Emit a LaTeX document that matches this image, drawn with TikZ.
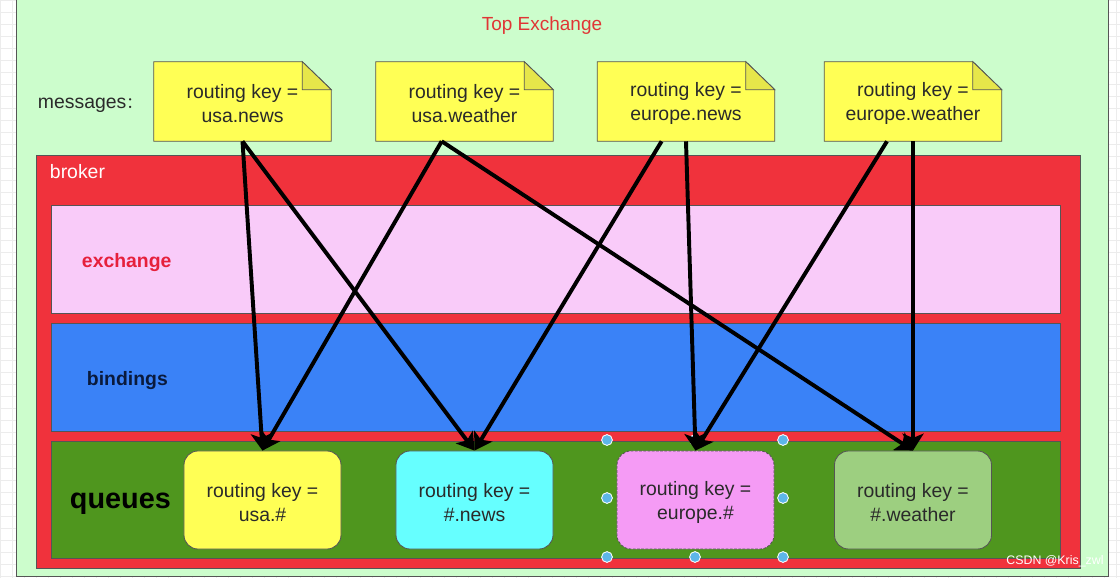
\documentclass[tikz,border=0pt]{standalone}
\usepackage{fontspec}
\setmainfont{Liberation Sans}
\newfontfamily\cjkfont{Noto Sans CJK SC}
\usepackage{xcolor}
\usetikzlibrary{arrows.meta, positioning, backgrounds}
\definecolor{topgreen}{HTML}{CCFDCC}
\definecolor{brokerred}{HTML}{F0323C}
\definecolor{exchpink}{HTML}{F9CBF9}
\definecolor{bindblue}{HTML}{3A82F7}
\definecolor{queuegreen}{HTML}{4F961E}
\definecolor{noteyellow}{HTML}{FFFF55}
\definecolor{foldyellow}{HTML}{E6E64A}
\definecolor{qyellow}{HTML}{FFFF55}
\definecolor{qcyan}{HTML}{66FFFF}
\definecolor{qpink}{HTML}{F59BF5}
\definecolor{qlightgreen}{HTML}{9DCF80}
\definecolor{edgegray}{HTML}{555555}
\definecolor{textdark}{HTML}{2A2A2A}
\definecolor{titlered}{HTML}{E03535}
\definecolor{exchred}{HTML}{E6203C}
\definecolor{bindnavy}{HTML}{0A1A3C}
\definecolor{handleblue}{HTML}{5DB6E8}
\definecolor{gridgray}{HTML}{ECECEC}

\begin{document}
\begin{tikzpicture}[
    x=0.025cm, y=-0.025cm,
    msgnote/.style={minimum width=4.425cm, minimum height=1.975cm, align=center, text=textdark, font=\fontsize{13.8}{17}\selectfont},
    notebody/.style={draw=edgegray, fill=noteyellow, line width=0.6pt},
    notefold/.style={draw=edgegray, fill=foldyellow, line width=0.6pt},
    queuebox/.style={rectangle, rounded corners=0.35cm, draw=edgegray, fill=#1, line width=0.6pt, minimum width=3.925cm, minimum height=2.45cm, align=center, text=textdark, font=\fontsize{13.8}{17}\selectfont},
    layerbox/.style={draw=edgegray, fill=#1, line width=0.6pt},
    layertext/.style={anchor=west, font=\fontsize{13.8}{17}\selectfont\bfseries},
    route/.style={-{Stealth[length=12pt, width=15pt, inset=3pt]}, line width=2.8pt, black},
    handle/.style={circle, fill=handleblue, draw=white, line width=0.6pt, inner sep=0pt, minimum size=0.27cm}
]
\useasboundingbox (0,0) rectangle (1120,578);

% Canvas and layers
\begin{scope}[on background layer]
\fill[white] (0,0) rectangle (1120,578);
\draw[gridgray, step=0.3cm, line width=0.4pt] (0,0) grid (1120,578);
\draw[layerbox=topgreen] (16,-5) rectangle (1108,576);
\draw[layerbox=brokerred] (36,155) rectangle (1080,568);
\draw[layerbox=exchpink] (51,205) rectangle (1060,313);
\draw[layerbox=bindblue] (51,323) rectangle (1060,431);
\draw[layerbox=queuegreen] (51,441) rectangle (1060,558);
\end{scope}

% Titles
\node[text=titlered, font=\fontsize{13.5}{16}\selectfont] (title) at (542,26) {Top Exchange};
\node[anchor=west, text=textdark, font=\fontsize{13.8}{17}\selectfont] (msglabel) at (33,105) {messages{\cjkfont\fontsize{11}{13}\selectfont ：}};
\node[anchor=west, text=white, font=\fontsize{13.8}{17}\selectfont] (broker) at (45,172) {broker};
\node[layertext, text=exchred] (exchange) at (77,263) {exchange};
\node[layertext, text=bindnavy] (bindings) at (82,381) {bindings};
\node[layertext, text=black, font=\fontsize{20.5}{24}\selectfont\bfseries] (queues) at (65,504) {queues};

% Messages
\node[msgnote] (m1) at (242.5,101.5) {\rule{0pt}{13pt}routing key =\\usa.news};
\node[msgnote] (m2) at (464.5,101.5) {\rule{0pt}{13pt}routing key =\\usa.weather};
\node[msgnote] (m3) at (686,101.5) {\rule{0pt}{13pt}routing key =\\europe.news};
\node[msgnote] (m4) at (913,101.5) {\rule{0pt}{13pt}routing key =\\europe.weather};

\begin{scope}[on background layer]
\foreach \n in {m1,m2,m3,m4} {
    \draw[notebody] (\n.south west) -- (\n.north west) -- ([xshift=-0.725cm]\n.north east)
        -- ([yshift=-0.7cm]\n.north east) -- (\n.south east) -- cycle;
    \draw[notefold] ([xshift=-0.725cm]\n.north east) -- ([xshift=-0.725cm, yshift=-0.7cm]\n.north east)
        -- ([yshift=-0.7cm]\n.north east) -- cycle;
}
\end{scope}

% Queues
\node[queuebox=qyellow] (q1) at (262.5,500) {\rule{0pt}{13pt}routing key =\\usa.\#};
\node[queuebox=qcyan] (q2) at (474.5,500) {\rule{0pt}{13pt}routing key =\\\#.news};
\node[queuebox=qpink, dash pattern=on 2pt off 1pt] (q3) at (695.5,500) {\rule{0pt}{13pt}routing key =\\europe.\#};
\node[queuebox=qlightgreen] (q4) at (913,500) {\rule{0pt}{13pt}routing key =\\\#.weather};

% Selection handles
\foreach \hx/\hy [count=\i] in {607/440, 695/440, 783/440, 607/498, 783/498, 607/557, 695/557, 783/557}
    \node[handle] (h\i) at (\hx,\hy) {};

% Routes
\draw[route] (m1.south) -- (q1.north);
\draw[route] (m1.south) -- (q2.north);
\draw[route] ([xshift=-0.57cm]m2.south) -- (q1.north);
\draw[route] ([xshift=-0.57cm]m2.south) -- (q4.north);
\draw[route] ([xshift=-0.61cm]m3.south) -- (q2.north);
\draw[route] (m3.south) -- (q3.north);
\draw[route] ([xshift=-0.65cm]m4.south) -- (q3.north);
\draw[route] (m4.south) -- (q4.north);

% Watermark
\node[text=white, font=\fontsize{8.8}{10}\selectfont] (mark) at (1055,561) {CSDN @Kris\_zwl};

\end{tikzpicture}
\end{document}
